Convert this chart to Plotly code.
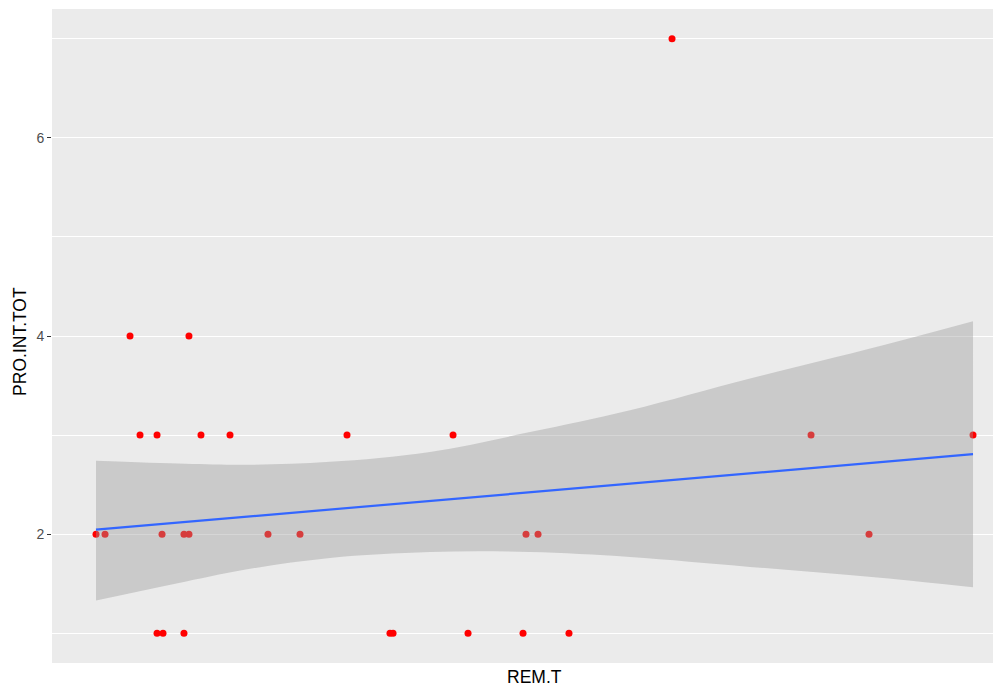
import plotly.graph_objects as go

# ---- data ----
rem_t = [0.00, 1.03, 3.88, 5.02, 6.96, 6.96, 7.64, 7.53, 10.03, 10.03,
         10.60, 10.60, 11.97, 15.28, 19.61, 23.26, 28.62, 33.52, 33.87, 40.71,
         42.42, 48.69, 49.03, 50.40, 53.93, 65.68, 81.53, 88.14, 100.00]
pro_int_tot = [2, 2, 4, 3, 3, 1, 1, 2, 1, 2,
               2, 4, 3, 3, 2, 2, 3, 1, 1, 3,
               1, 1, 2, 2, 1, 7, 3, 2, 3]

# smoother (lm)
fit_x = [0.0, 100.0]
fit_y = [2.045, 2.808]

band_x = [0.0, 10.15, 17.56, 26.68, 38.08, 49.49, 60.89, 74.57, 89.40, 100.0]
band_hi = [2.74, 2.71, 2.70, 2.73, 2.83, 3.03, 3.25, 3.57, 3.90, 4.15]
band_lo = [1.33, 1.52, 1.65, 1.76, 1.82, 1.82, 1.77, 1.67, 1.56, 1.465]

y_major = [2, 4, 6]
y_minor = [1, 3, 5, 7]

FONT = "Liberation Sans, Arial, sans-serif"

fig = go.Figure()
fig.add_trace(go.Scatter(
    x=rem_t, y=pro_int_tot, mode="markers",
    marker=dict(color="#FF0000", size=7, line=dict(width=0)),
    showlegend=False, hoverinfo="skip"))
fig.add_trace(go.Scatter(
    x=band_x, y=band_lo, mode="lines",
    line=dict(width=0, shape="spline"), showlegend=False, hoverinfo="skip"))
fig.add_trace(go.Scatter(
    x=band_x, y=band_hi, mode="lines",
    line=dict(width=0, shape="spline"), fill="tonexty",
    fillcolor="rgba(153,153,153,0.4)", showlegend=False, hoverinfo="skip"))
fig.add_trace(go.Scatter(
    x=fit_x, y=fit_y, mode="lines",
    line=dict(color="#3366FF", width=2.2), showlegend=False, hoverinfo="skip"))

# the page body has an 8px margin, so the figure is sized/offset to compensate
fig.update_layout(
    width=993, height=678,
    margin=dict(l=44, r=0, t=1, b=23),
    paper_bgcolor="white", plot_bgcolor="#EBEBEB",
    font=dict(family=FONT),
    xaxis=dict(range=[-5.017, 103.19], showgrid=False, zeroline=False,
               showticklabels=False, ticks="", showline=False),
    yaxis=dict(range=[0.7, 7.3], tickvals=y_major, ticktext=[str(v) for v in y_major],
               showgrid=True, gridcolor="white", gridwidth=1.1, zeroline=False,
               ticks="outside", ticklen=4, tickwidth=1, tickcolor="#333333",
               tickfont=dict(size=14, color="#4D4D4D", family=FONT),
               showline=False,
               minor=dict(tickvals=y_minor, showgrid=True, gridcolor="white",
                          gridwidth=0.55, ticks="")),
    annotations=[
        dict(text="REM.T", xref="paper", yref="paper", x=0.508, y=-0.0214,
             xanchor="center", yanchor="middle", showarrow=False,
             font=dict(size=17.5, color="black", family=FONT)),
        dict(text="PRO.INT.TOT", xref="paper", yref="paper", x=-0.0337, y=0.491,
             xanchor="center", yanchor="middle", textangle=-90, showarrow=False,
             font=dict(size=17.5, color="black", family=FONT)),
    ],
)

fig.write_html("out.html")
